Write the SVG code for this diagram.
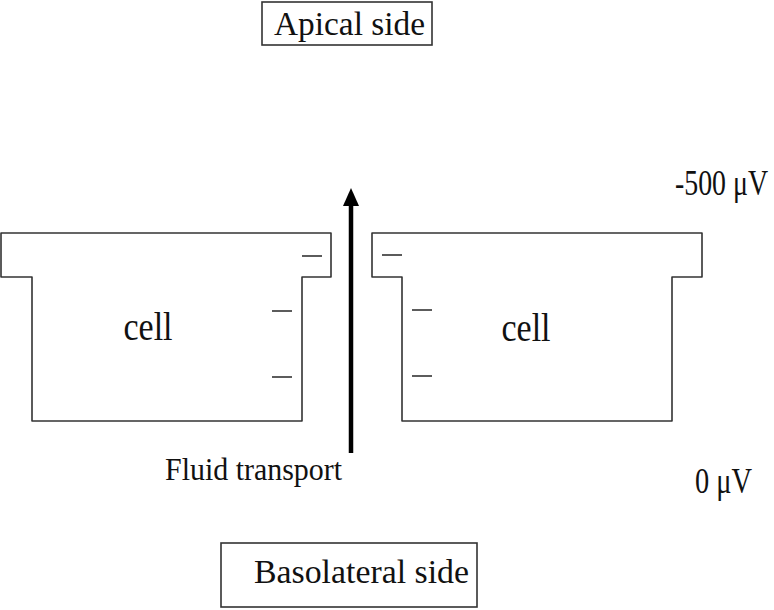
<svg xmlns="http://www.w3.org/2000/svg" width="774" height="610" viewBox="0 0 774 610">
<style>
.cell{fill:none;stroke:#333;stroke-width:1.6;stroke-linejoin:round}
.lbl{fill:none;stroke:#333;stroke-width:1.6}
.neg{stroke:#333;stroke-width:1.6}
text{font-family:"Liberation Serif","Times New Roman",serif;fill:#111}
</style>
<rect width="774" height="610" fill="#fff"/>
<g id="apical">
<rect class="lbl" x="262" y="2" width="170" height="43"/>
<text x="274" y="35" font-size="34" textLength="151" lengthAdjust="spacingAndGlyphs">Apical side</text>
</g>
<g id="cell-left">
<path class="cell" d="M1,233 H331 V277 H302 V421 H32 V277 H1 Z"/>
<text transform="translate(148,340) scale(1,1.17)" font-size="34" text-anchor="middle">cell</text>
<line class="neg" x1="302" y1="256" x2="322" y2="256"/>
<line class="neg" x1="272" y1="311" x2="292" y2="311"/>
<line class="neg" x1="272" y1="377" x2="292" y2="377"/>
</g>
<g id="cell-right">
<path class="cell" d="M372,233 H702 V277 H672 V421 H402 V277 H372 Z"/>
<text transform="translate(526,341) scale(1,1.17)" font-size="34" text-anchor="middle">cell</text>
<line class="neg" x1="382" y1="255" x2="402" y2="255"/>
<line class="neg" x1="412" y1="310" x2="432" y2="310"/>
<line class="neg" x1="412" y1="376" x2="432" y2="376"/>
</g>
<g id="connectors">
<line x1="351" y1="204" x2="351" y2="453" stroke="#000" stroke-width="4.5"/>
<polygon points="351,188 343,206 359,206" fill="#000"/>
</g>
<g id="fluid">
<text transform="translate(165,480) scale(1,1.12)" font-size="29" textLength="177" lengthAdjust="spacingAndGlyphs">Fluid transport</text>
</g>
<g id="v500">
<text transform="translate(675,195) scale(1,1.2)" font-size="29" textLength="93" lengthAdjust="spacingAndGlyphs">-500 μV</text>
</g>
<g id="v0">
<text transform="translate(695,493) scale(1,1.2)" font-size="29" textLength="57" lengthAdjust="spacingAndGlyphs">0 μV</text>
</g>
<g id="basolateral">
<rect class="lbl" x="221" y="543" width="256" height="64"/>
<text x="254" y="583" font-size="33" textLength="215" lengthAdjust="spacingAndGlyphs">Basolateral side</text>
</g>
</svg>
